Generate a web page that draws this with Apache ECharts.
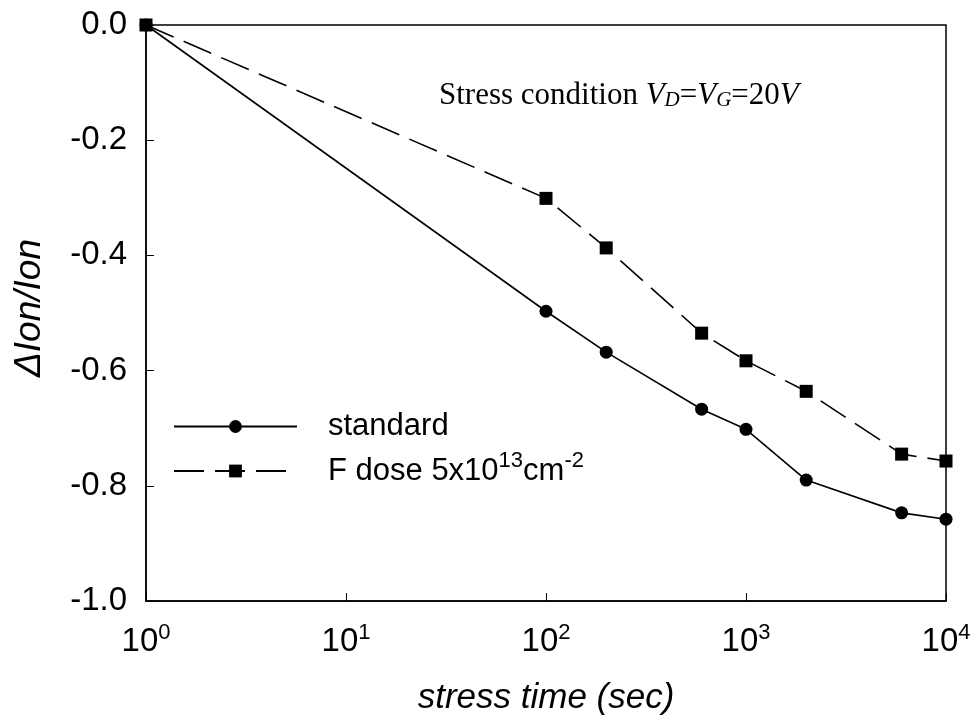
<!DOCTYPE html>
<html>
<head>
<meta charset="utf-8">
<script src="https://cdn.jsdelivr.net/npm/echarts@6/dist/echarts.min.js"></script>
<style>html,body{margin:0;padding:0;background:#fff}#c{width:977px;height:722px}</style>
</head>
<body>
<div id="c"></div>
<script>
const stressTime = [1, 100, 200, 600, 1000, 2000, 6000, 10000];
const standard = [0, -0.497, -0.568, -0.667, -0.702, -0.790, -0.847, -0.858];
const fDose = [0, -0.301, -0.387, -0.535, -0.583, -0.636, -0.745, -0.757];
const yTicks = [0, -0.2, -0.4, -0.6, -0.8, -1.0];

const chart = echarts.init(document.getElementById('c'), null, {renderer: 'canvas'});
const font = 'Liberation Sans, Arial, sans-serif';
const serif = 'Liberation Serif, Times New Roman, serif';

const legendText = {
  fontFamily: font, fontSize: 31, color: '#000', padding: [0, 0, 0, 26],
  rich: {
    a: {fontFamily: font, fontSize: 31, color: '#000'},
    sp: {fontFamily: font, fontSize: 22, color: '#000', verticalAlign: 'top', padding: [0, 0, 20, 0]}
  }
};

chart.setOption({
  animation: false,
  backgroundColor: '#fff',
  grid: {left: 146, right: 31, top: 25, bottom: 121, show: true, borderColor: '#000', borderWidth: 1.5, backgroundColor: 'transparent'},
  xAxis: {
    type: 'log', logBase: 10, min: 1, max: 10000,
    axisLine: {onZero: false, lineStyle: {color: '#000', width: 1.5}},
    axisTick: {inside: true, length: 8, lineStyle: {color: '#000', width: 1}},
    minorTick: {show: false},
    splitLine: {show: false},
    axisLabel: {
      margin: 21, color: '#000',
      formatter: v => '{b|10}{s|' + Math.round(Math.log10(v)) + '}',
      rich: {
        b: {fontFamily: font, fontSize: 33, color: '#000', verticalAlign: 'bottom'},
        s: {fontFamily: font, fontSize: 22, color: '#000', verticalAlign: 'top', padding: [0, 0, 14, 0]}
      }
    },
    name: 'stress time (sec)', nameLocation: 'middle', nameGap: 80,
    nameTextStyle: {fontFamily: font, fontSize: 35, fontStyle: 'italic', color: '#000'}
  },
  yAxis: {
    type: 'value', min: -1, max: 0, interval: 0.2,
    axisLine: {onZero: false, lineStyle: {color: '#000', width: 1.5}},
    axisTick: {inside: true, length: 8, lineStyle: {color: '#000', width: 1}},
    splitLine: {show: false},
    axisLabel: {
      margin: 19, color: '#000', fontFamily: font, fontSize: 33,
      formatter: v => {
        const t = yTicks.find(y => Math.abs(y - v) < 1e-6);
        const val = t === undefined ? v : t;
        return val === 0 ? '0.0' : val.toFixed(1);
      }
    },
    name: 'ΔIon/Ion', nameLocation: 'middle', nameGap: 98,
    nameTextStyle: {fontFamily: font, fontSize: 37, fontStyle: 'italic', color: '#000', padding: [0, 0, 0, 10]}
  },
  legend: [
    {
      orient: 'vertical', left: 173, top: 411, padding: 0, itemWidth: 123, itemHeight: 16,
      textStyle: legendText,
      formatter: () => '{a|standard}',
      data: ['standard']
    },
    {
      orient: 'vertical', left: 173, top: 450, padding: 0, itemWidth: 123, itemHeight: 16,
      textStyle: legendText,
      formatter: () => '{a|F dose 5x10}{sp|13}{a|cm}{sp|-2}',
      data: ['F dose']
    }
  ],
  series: [
    {
      name: 'standard', type: 'line', data: stressTime.map((t, i) => [t, standard[i]]),
      symbol: 'circle', symbolSize: 13, showAllSymbol: true,
      lineStyle: {color: '#000', width: 1.6, type: 'solid'},
      itemStyle: {color: '#000'}
    },
    {
      name: 'F dose', type: 'line', data: stressTime.map((t, i) => [t, fDose[i]]),
      symbol: 'rect', symbolSize: 13, showAllSymbol: true,
      lineStyle: {color: '#000', width: 1.6, type: [30, 11]},
      itemStyle: {color: '#000'}
    }
  ],
  graphic: [{
    type: 'text', left: 439, top: 80,
    style: {
      text: '{n|Stress condition }{i|V}{sub|D}{n|=}{i|V}{sub|G}{n|=20}{i|V}',
      rich: {
        n: {fontFamily: serif, fontSize: 31, fill: '#000'},
        i: {fontFamily: serif, fontSize: 31, fontStyle: 'italic', fill: '#000'},
        sub: {fontFamily: serif, fontSize: 21, fontStyle: 'italic', fill: '#000', verticalAlign: 'bottom', padding: [8, 0, 0, 0]}
      }
    }
  }]
});
</script>
</body>
</html>
